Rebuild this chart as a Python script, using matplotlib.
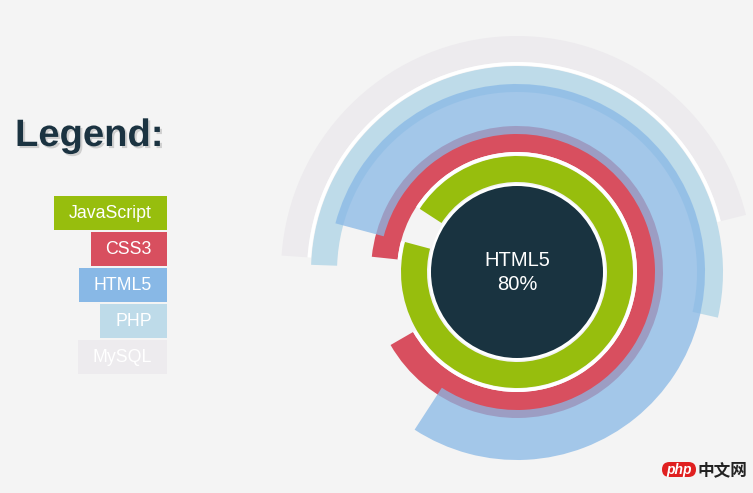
import matplotlib
matplotlib.use('Agg')
import matplotlib.pyplot as plt
import matplotlib.patheffects as pe
from matplotlib.patches import Wedge, Circle, Rectangle, FancyBboxPatch

# skill data (percent + start angle of each arc, degrees, counted clockwise)
labels = ['JavaScript', 'CSS3', 'HTML5', 'PHP', 'MySQL']
percents = [95, 90, 80, 53, 45]
start_deg = [147, 174, 165, 178, 176]
colors = ['#97be0d', '#d84f5f', '#88b8e6', '#bedbe9', '#edebee']
active = 'HTML5'

bg = '#f4f4f4'
plt.rcParams['font.family'] = ['Liberation Sans', 'DejaVu Sans']

fig = plt.figure(figsize=(7.53, 4.93), dpi=100, facecolor=bg)
ax = fig.add_axes([0, 0, 1, 1])
ax.set_xlim(0, 753)
ax.set_ylim(493, 0)
ax.axis('off')

cx, cy = 517, 272

# centre disc with white rim
ax.add_patch(Circle((cx, cy), 88.5, fc='white', ec='none', zorder=1))
ax.add_patch(Circle((cx, cy), 86, fc='#193340', ec='none', zorder=3))

# arcs (y axis is flipped, so angles are negated)
rad = 73
spans = []
for lab, p, b, c in zip(labels, percents, start_deg, colors):
    rad += 30
    sweep = 3.6 * p
    t1 = -b
    spans.append((lab, rad, t1, t1 + sweep))
    if lab == active:
        ax.add_patch(Wedge((cx, cy), rad + 25, t1, t1 + sweep, width=50,
                           fc=c, ec='none', alpha=0.75, zorder=5))
    else:
        ax.add_patch(Wedge((cx, cy), rad + 13, t1, t1 + sweep, width=26,
                           fc=c, ec='none', zorder=2))

# white gaps between neighbouring rings where both are drawn
for (l1, r1, a1, b1), (l2, r2, a2, b2) in zip(spans[:-1], spans[1:]):
    if active in (l1, l2):
        continue
    for shift in (-360, 0, 360):
        lo = max(a1, a2 + shift)
        hi = min(b1, b2 + shift)
        if hi > lo:
            ax.add_patch(Wedge((cx, cy), r1 + 17, lo, hi, width=3.5,
                               fc='white', ec='none', zorder=2))

# centre label
i_act = labels.index(active)
ax.text(cx, 261, active, color='white', fontsize=14.5, ha='center', va='center', zorder=6)
ax.text(cx, 285, f'{percents[i_act]}%', color='white', fontsize=14.5,
        ha='center', va='center', zorder=6)

# legend title with shadow
ax.text(15, 146, 'Legend:', fontsize=27.5, weight='bold', color='#1b3341', va='baseline',
        path_effects=[pe.SimplePatchShadow(offset=(1.5, -1.5), shadow_rgbFace='#cfcfcf', alpha=1),
                      pe.Normal()])

# legend boxes sized to their text
texts = []
for i, (lab, c) in enumerate(zip(labels, colors)):
    yc = 213 + i * 36
    t = ax.text(152, yc, lab, color='white', fontsize=12.8, ha='right', va='center', zorder=4)
    texts.append((t, yc, c))

fig.canvas.draw()
inv = ax.transData.inverted()
for t, yc, c in texts:
    bb = t.get_window_extent()
    x0 = inv.transform((bb.x0, bb.y0))[0] - 15
    ax.add_patch(Rectangle((x0, yc - 17), 167 - x0, 34, fc=c, ec='none', zorder=3))

# watermark
ax.add_patch(FancyBboxPatch((662, 462), 34, 15, boxstyle='round,pad=0,rounding_size=7.5',
                            fc='#e02020', ec='none', zorder=4))
ax.text(679, 470, 'php', color='white', fontsize=10, style='italic', weight='bold',
        ha='center', va='center', zorder=5)
ax.text(722, 470, '中文网', color='#222222', fontsize=12, weight='bold',
        family=['Noto Sans CJK SC', 'DejaVu Sans'], ha='center', va='center', zorder=5)

fig.savefig('out.png', dpi=100, facecolor=bg)
